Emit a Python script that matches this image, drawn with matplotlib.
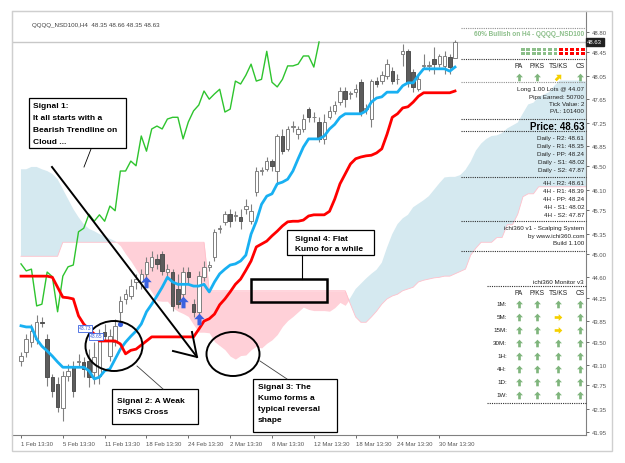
import matplotlib
matplotlib.use("Agg")
import matplotlib.pyplot as plt
from matplotlib.path import Path
from matplotlib.patches import Rectangle, Ellipse
from matplotlib.transforms import blended_transform_factory, Affine2D
import numpy as np

plt.rcParams['font.family'] = ['Liberation Sans', 'DejaVu Sans']

# ---------------- data ----------------
date_labels = ["1 Feb 13:30", "5 Feb 13:30", "11 Feb 13:30", "18 Feb 13:30", "24 Feb 13:30",
               "2 Mar 13:30", "8 Mar 13:30", "12 Mar 13:30", "18 Mar 13:30", "24 Mar 13:30",
               "30 Mar 13:30"]
price_ticks = [48.80, 48.45, 48.05, 47.65, 47.25, 46.85, 46.50, 46.10, 45.75, 45.35,
               45.00, 44.60, 44.25, 43.85, 43.50, 43.10, 42.75, 42.35, 41.95]

opens = [43.17, 43.32, 43.49, 43.54, 43.83, 43.54, 42.89, 42.77, 42.36, 42.91,
         43.06, 43.15, 43.15, 43.17, 42.98, 42.91, 43.66, 43.25, 43.49, 44.01,
         44.23, 44.28, 44.52, 44.52, 44.66, 44.78, 44.91, 45.00, 44.69, 44.69,
         44.40, 44.31, 44.69, 44.14, 44.01, 44.61, 44.78, 44.95, 45.43, 45.55,
         45.68, 45.65, 45.63, 45.77, 45.56, 46.06, 46.42, 46.45, 46.59, 46.42,
         47.02, 46.80, 47.17, 47.05, 47.14, 47.48, 47.34, 47.26, 46.97, 47.34,
         47.45, 47.60, 47.79, 47.74, 47.77, 47.94, 47.48, 47.31, 47.96, 47.96,
         48.05, 48.13, 47.99, 48.42, 48.47, 48.12, 47.82, 48.22, 48.22, 48.34,
         48.25, 48.22, 48.37, 48.35]
highs = [43.32, 43.63, 43.80, 43.95, 43.92, 43.63, 42.94, 42.89, 43.00, 43.12,
         43.17, 43.29, 43.24, 43.37, 43.49, 43.71, 43.80, 43.71, 43.89, 44.28,
         44.40, 44.57, 44.66, 44.74, 44.95, 45.05, 45.00, 45.05, 44.83, 44.74,
         44.66, 44.78, 44.78, 44.23, 44.71, 44.88, 44.88, 45.43, 45.50, 45.74,
         45.77, 45.74, 45.77, 45.94, 45.85, 46.49, 46.49, 46.66, 46.63, 47.05,
         47.14, 47.19, 47.28, 47.19, 47.40, 47.52, 47.43, 47.34, 47.40, 47.53,
         47.62, 47.86, 47.86, 47.79, 47.91, 48.00, 47.57, 48.00, 48.03, 48.13,
         48.34, 48.20, 48.08, 48.59, 48.51, 48.17, 48.08, 48.42, 48.30, 48.54,
         48.42, 48.47, 48.42, 48.66]
lows = [43.08, 43.24, 43.41, 43.46, 43.75, 42.74, 42.55, 42.29, 42.14, 42.82,
        42.55, 43.06, 42.89, 42.72, 42.77, 42.77, 43.51, 43.17, 43.42, 43.83,
        44.14, 44.23, 44.40, 44.40, 44.57, 44.71, 44.74, 44.64, 44.57, 44.02,
        44.08, 44.23, 44.49, 43.92, 43.92, 44.54, 44.71, 44.88, 45.36, 45.50,
        45.46, 45.56, 45.43, 45.68, 45.51, 45.99, 46.35, 46.42, 46.42, 46.20,
        46.71, 46.76, 47.09, 46.97, 47.09, 47.26, 47.26, 46.92, 46.88, 47.31,
        47.40, 47.55, 47.52, 47.65, 47.69, 47.36, 47.40, 47.17, 47.86, 47.91,
        48.00, 47.91, 47.91, 48.22, 47.86, 47.77, 47.79, 48.17, 48.13, 48.08,
        48.20, 48.08, 48.08, 48.35]
closes = [43.25, 43.54, 43.68, 43.83, 43.82, 42.89, 42.65, 42.38, 42.91, 43.00,
          42.65, 43.17, 43.03, 42.89, 43.24, 43.58, 43.60, 43.60, 43.77, 44.19,
          44.31, 44.45, 44.57, 44.66, 44.86, 44.95, 44.83, 44.71, 44.74, 44.11,
          44.14, 44.69, 44.61, 44.01, 44.62, 44.78, 44.81, 45.38, 45.44, 45.68,
          45.56, 45.67, 45.56, 45.82, 45.74, 46.42, 46.42, 46.59, 46.51, 47.02,
          46.76, 47.14, 47.19, 47.14, 47.31, 47.34, 47.34, 46.97, 47.26, 47.45,
          47.55, 47.79, 47.65, 47.74, 47.82, 47.43, 47.48, 47.96, 47.91, 48.06,
          48.25, 47.96, 47.99, 48.47, 47.94, 47.86, 47.99, 48.22, 48.22, 48.25,
          48.39, 48.39, 48.20, 48.63]

tenkan = [43.77, 43.75, 43.75, 43.54, 43.42, 43.34, 43.25, 43.15, 43.06, 43.06,
          43.06, 43.06, 43.06, 43.00, 42.86, 42.89, 43.00, 43.03, 43.20, 43.37,
          43.49, 43.59, 43.68, 43.80, 44.01, 44.14, 44.28, 44.43, 44.60, 44.52,
          44.48, 44.48, 44.48, 44.45, 44.45, 44.48, 44.35, 44.52, 44.66, 44.74,
          44.81, 44.83, 44.88, 44.98, 45.34, 45.56, 45.85, 45.99, 46.03, 46.20,
          46.23, 46.28, 46.42, 46.63, 46.83, 46.97, 46.97, 46.97, 47.02, 47.14,
          47.22, 47.34, 47.40, 47.40, 47.40, 47.40, 47.45, 47.60, 47.67, 47.69,
          47.77, 47.77, 47.77, 47.88, 47.93, 47.93, 48.06, 48.17, 48.17, 48.17,
          48.17, 48.17, 48.13, 48.20]
kijun = [44.62, 44.62, 44.62, 44.62, 44.62, 44.62, 44.60, 44.43, 44.26, 44.25,
         44.23, 43.94, 43.80, 43.71, 43.63, 43.51, 43.51, 43.51, 43.51, 43.46,
         43.29, 43.35, 43.37, 43.44, 43.51, 43.58, 43.58, 43.58, 43.58, 43.58,
         43.58, 43.58, 43.58, 43.58, 43.71, 43.85, 43.89, 43.97, 44.13, 44.23,
         44.35, 44.48, 44.57, 44.72, 44.88, 45.12, 45.17, 45.22, 45.31, 45.39,
         45.48, 45.55, 45.56, 45.56, 45.58, 45.65, 45.67, 45.67, 45.67, 45.73,
         45.94, 46.20, 46.37, 46.54, 46.63, 46.66, 46.68, 46.69, 46.73, 46.80,
         47.05, 47.34, 47.40, 47.50, 47.52, 47.60, 47.70, 47.76, 47.76, 47.76,
         47.76, 47.76, 47.76, 47.79]
span_a = [46.45, 46.45, 46.49, 46.49, 46.45, 46.42, 46.37, 46.28, 46.11, 45.94,
          45.77, 45.63, 45.51, 45.43, 45.39, 45.34, 45.31, 45.26, 45.22, 45.14,
          45.00, 44.88, 44.74, 44.60, 44.48, 44.35, 44.20, 44.19, 44.19, 44.08,
          44.02, 43.98, 43.93, 43.79, 43.66, 43.66, 43.65, 43.50, 43.43, 43.36,
          43.25, 43.20, 43.26, 43.27, 43.36, 43.42, 43.39, 43.47, 43.53, 43.62,
          43.76, 43.86, 43.93, 44.01, 44.09, 44.05, 44.03, 44.03, 44.03, 44.02,
          44.08, 44.17, 44.12, 44.25, 44.40, 44.49, 44.58, 44.66, 44.73, 44.85,
          45.11, 45.34, 45.51, 45.61, 45.67, 45.80, 45.86, 45.92, 45.99, 46.10,
          46.21, 46.31, 46.32, 46.32, 46.35, 46.44, 46.58, 46.77, 46.89, 46.97,
          47.02, 47.03, 47.07, 47.15, 47.20, 47.25, 47.41, 47.56, 47.59, 47.69,
          47.73, 47.77, 47.88, 47.97, 47.97, 47.97, 47.97, 47.97, 47.95, 48.00]
span_b = [44.96, 44.96, 44.96, 44.96, 44.96, 44.96, 44.96, 44.96, 45.20, 45.20,
          45.20, 45.20, 45.20, 45.20, 45.20, 45.20, 45.20, 45.20, 45.20, 45.20,
          45.20, 45.20, 45.20, 45.20, 45.20, 45.20, 45.20, 45.20, 45.20, 45.20,
          45.20, 45.20, 45.20, 45.20, 45.20, 45.20, 44.37, 44.37, 44.37, 44.37,
          44.37, 44.37, 44.37, 44.37, 44.37, 44.37, 44.37, 44.37, 44.37, 44.37,
          44.37, 44.37, 44.37, 44.37, 44.37, 44.37, 44.37, 44.37, 44.37, 44.37,
          44.37, 44.37, 44.37, 44.14, 43.92, 43.83, 43.83, 43.92, 44.02, 44.14,
          44.23, 44.28, 44.31, 44.37, 44.40, 44.43, 44.52, 44.55, 44.57, 44.59,
          44.60, 44.62, 44.62, 44.66, 44.70, 44.74, 44.98, 45.10, 45.20, 45.20,
          45.20, 45.28, 45.28, 45.50, 45.50, 45.68, 45.98, 46.03, 46.03, 46.15,
          46.15, 46.15, 46.15, 46.15, 46.15, 46.15, 46.15, 46.15, 46.15, 46.15]

signal_bars = [24, 31, 34]
signal_prices = [44.52, 44.18, 43.89]
last_price = 48.63

bias_squares = ["g"] * 7 + ["r"] * 5
monitor_rows = ["1M:", "5M:", "15M:", "30M:", "1H:", "4H:", "1D:", "1W:"]
monitor_cols = ["PA", "P/KS", "TS/KS", "CS"]
monitor_state = [["u", "u", "u", "u"], ["u", "u", "r", "u"], ["u", "u", "r", "u"],
                 ["u", "u", "u", "u"], ["u", "u", "u", "u"], ["u", "u", "u", "u"],
                 ["u", "u", "u", "u"], ["u", "u", "u", "u"]]
h4_state = ["u", "u", "d", "u"]
trade_info = ["Long 1.00 Lots @ 44.07", "Pips Earned: 50700", "Tick Value: 2", "P/L: 101400"]
daily_levels = ["Daily - R2: 48.61", "Daily - R1: 48.35", "Daily - PP: 48.24",
                "Daily - S1: 48.02", "Daily - S2: 47.87"]
h4_levels = ["4H - R2: 48.61", "4H - R1: 48.39", "4H - PP: 48.24",
             "4H - S1: 48.02", "4H - S2: 47.87"]

# ---------------- figure ----------------
W, H = 625, 464
fig = plt.figure(figsize=(W / 100, H / 100), dpi=100)
fig.patch.set_facecolor("white")

ax = fig.add_axes([12 / W, 1 - 436 / H, 574 / W, 424 / H])
ax.set_xlim(-1.72, 108.05)
ax.set_ylim(41.90, 49.16)
ax.set_facecolor("white")

n = len(opens)
idx = np.arange(n)
cidx = np.arange(len(span_a))
sa = np.array(span_a)
sb = np.array(span_b)

ax.fill_between(cidx, sa, sb, where=sa >= sb, interpolate=True, color="#d5e9f0", lw=0, zorder=1)
ax.fill_between(cidx, sa, sb, where=sa < sb, interpolate=True, color="#ffd0d8", lw=0, zorder=1)
ax.plot(cidx, sb, color="#ffc0cb", lw=0.6, zorder=1.2)

ax.axhline(last_price, color="#c8c8c8", lw=1, zorder=1.5)

for i in range(n):
    o, h, l, c = opens[i], highs[i], lows[i], closes[i]
    up = c >= o
    ax.vlines(i, l, h, color="#808080", lw=0.8, zorder=3)
    lo = min(o, c)
    bh = max(abs(c - o), 0.012)
    ax.add_patch(Rectangle((i - 0.33, lo), 0.66, bh,
                           facecolor="white" if up else "#5c5c5c",
                           edgecolor="#808080" if up else "#505050", lw=0.7, zorder=4))

cl = np.array(closes)
ax.plot(idx[26:] - 26, cl[26:], color="#2ec42e", lw=1.0, zorder=5)
ax.plot(idx, tenkan, color="#18b0f2", lw=2, zorder=6)
ax.plot(idx, kijun, color="#ff0000", lw=2, zorder=6)

up_arrow = Path([(0, 1), (-0.9, 0.05), (-0.35, 0.05), (-0.35, -1), (0.35, -1),
                 (0.35, 0.05), (0.9, 0.05), (0, 1)],
                [Path.MOVETO] + [Path.LINETO] * 6 + [Path.CLOSEPOLY])
ax.scatter(signal_bars, signal_prices, marker=up_arrow, s=70, color="#3a62e0", zorder=7, lw=0)
ax.scatter([19], [43.80], marker="o", s=14, color="#3a62e0", zorder=7, lw=0)

ax.yaxis.tick_right()
ax.set_yticks(price_ticks)
ax.set_yticklabels([f"{v:.2f}" for v in price_ticks])
ax.set_xticks(np.arange(0, 8 * len(date_labels), 8))
ax.set_xticklabels(date_labels)
for lab in ax.get_xticklabels():
    lab.set_horizontalalignment("left")
ax.tick_params(axis="y", labelsize=4.3, colors="#555555", length=2, pad=2, width=0.6)
ax.tick_params(axis="x", labelsize=4.3, colors="#555555", length=2.5, pad=2, width=0.6)
for s in ["left", "top"]:
    ax.spines[s].set_color("#cfcfcf")
for s in ["right", "bottom"]:
    ax.spines[s].set_color("#808080")
    ax.spines[s].set_linewidth(0.8)

tr = blended_transform_factory(ax.transAxes, ax.transData)
ax.text(1.002, last_price, f"{last_price:.2f}", transform=tr, fontsize=4.3, color="white",
        va="center", ha="left", zorder=8,
        bbox=dict(boxstyle="square,pad=0.25", facecolor="#202020", edgecolor="#202020"))

# ---------------- overlay (pixel coordinates) ----------------
ov = fig.add_axes([0, 0, 1, 1], zorder=10)
ov.set_xlim(0, W)
ov.set_ylim(H, 0)
ov.axis("off")
ov.patch.set_alpha(0)

ov.add_patch(Rectangle((12, 12), 600, 440, fill=False, edgecolor="#cfcfcf", lw=1))
ov.text(32, 26, "QQQQ_NSD100,H4  48.35 48.66 48.35 48.63", fontsize=4.5, color="#404040", va="center")

ov.text(85, 329, "43.73", fontsize=3.6, color="#3a62e0", ha="center", va="center",
        bbox=dict(boxstyle="square,pad=0.2", facecolor="white", edgecolor="#3a62e0", lw=0.6))
ov.text(96, 337, "43.65", fontsize=3.6, color="#3a62e0", ha="center", va="center",
        bbox=dict(boxstyle="square,pad=0.2", facecolor="white", edgecolor="#3a62e0", lw=0.6))

ov.plot([52, 197], [168, 358], color="black", lw=1.4)
ov.plot([173, 197, 192], [352, 358, 333], color="black", lw=1.4)
ov.plot([91, 84], [150, 168], color="black", lw=0.6)

bold = dict(fontsize=6, fontweight="bold", color="black", va="center", ha="left")

ov.add_patch(Rectangle((29, 99), 97, 50, facecolor="white", edgecolor="black", lw=0.9))
for k, t in enumerate(["Signal 1:", "It all starts with a", "Bearish Trendline on", "Cloud ..."]):
    ov.text(33, 107 + k * 11.7, t, **bold)

ov.add_patch(Ellipse((114, 347), 57, 50, fill=False, edgecolor="black", lw=1.4))
ov.plot([137, 163], [367, 390], color="#404040", lw=0.6)
ov.add_patch(Rectangle((112, 390), 86, 35, facecolor="white", edgecolor="black", lw=0.9))
ov.text(117, 402, "Signal 2: A Weak", **bold)
ov.text(117, 413, "TS/KS Cross", **bold)

ov.add_patch(Ellipse((233, 355), 53, 44, fill=False, edgecolor="black", lw=1.4))
ov.plot([260, 287], [362, 380], color="#404040", lw=0.6)
ov.add_patch(Rectangle((253, 380), 84, 53, facecolor="white", edgecolor="black", lw=0.9))
for k, t in enumerate(["Signal 3: The", "Kumo forms a", "typical reversal", "shape"]):
    ov.text(258, 388 + k * 10.7, t, **bold)

ov.add_patch(Rectangle((287, 231), 87, 25, facecolor="white", edgecolor="black", lw=0.9))
ov.text(295, 240, "Signal 4: Flat", **bold)
ov.text(295, 250, "Kumo for a while", **bold)
ov.plot([302, 302], [256, 280], color="black", lw=0.8)
ov.add_patch(Rectangle((251, 280), 76, 23, fill=False, edgecolor="black", lw=1.8))

# ---------------- right info panel ----------------
RX = 584
pan = dict(fontsize=4.5, color="#202020", ha="right", va="center")


def hline(y, x0=461, color="#303030"):
    ov.plot([x0, 586], [y, y], color=color, lw=0.8, ls=(0, (1, 1)))


hline(29, color="#909090")
ov.text(RX, 35, "60% Bullish on H4 - QQQQ_NSD100", fontsize=4.7, fontweight="bold",
        color="#8cbf8a", ha="right", va="center")
for k, s in enumerate(bias_squares):
    col = "#8cbf8a" if s == "g" else "#ff0000"
    for yy in (49.2, 52.8):
        ov.add_patch(Rectangle((521 + k * 5.45, yy), 3.6, 3.0, facecolor=col, lw=0))
hline(60)

col_x = [519, 537, 558, 580]
right_arrow = Path([(1, 0), (0.05, 0.9), (0.05, 0.35), (-1, 0.35), (-1, -0.35),
                    (0.05, -0.35), (0.05, -0.9), (1, 0)],
                   [Path.MOVETO] + [Path.LINETO] * 6 + [Path.CLOSEPOLY])
diag_arrow = up_arrow.transformed(Affine2D().rotate_deg(-45))
arrow_marker = {"u": up_arrow, "r": right_arrow, "d": diag_arrow}
arrow_color = {"u": "#7fb57c", "r": "#f5d000", "d": "#f5d000"}

for cx, t in zip(col_x, monitor_cols):
    ov.text(cx, 66, t, fontsize=4.8, color="#202020", ha="center", va="center")
for cx, s in zip(col_x, h4_state):
    ov.scatter([cx], [78], marker=arrow_marker[s], s=30, color=arrow_color[s], lw=0)
hline(83, color="#909090")
for k, t in enumerate(trade_info):
    ov.text(RX, 90 + k * 7.3, t, **pan)
hline(120)
ov.text(RX, 127, "Price: 48.63", fontsize=7, fontweight="bold", color="black", ha="right", va="center")
hline(132)
for k, t in enumerate(daily_levels):
    ov.text(RX, 139 + k * 8, t, **pan)
hline(178)
for k, t in enumerate(h4_levels):
    ov.text(RX, 184 + k * 7.8, t, **pan)
hline(222)
ov.text(RX, 229, "ichi360 v1 - Scalping System", **pan)
ov.text(RX, 237, "by www.ichi360.com", **pan)
ov.text(RX, 244, "Build 1.100", **pan)
hline(252)

ov.text(RX, 283, "ichi360 Monitor v3", **pan)
hline(287, x0=487)
for cx, t in zip(col_x, monitor_cols):
    ov.text(cx, 294, t, fontsize=4.8, color="#202020", ha="center", va="center")
for r, (lab, states) in enumerate(zip(monitor_rows, monitor_state)):
    yy = 305 + r * 13
    ov.text(507, yy, lab, **pan)
    for cx, s in zip(col_x, states):
        ov.scatter([cx], [yy], marker=arrow_marker[s], s=30, color=arrow_color[s], lw=0)
hline(404, x0=487)

fig.savefig("out.png", dpi=100)
